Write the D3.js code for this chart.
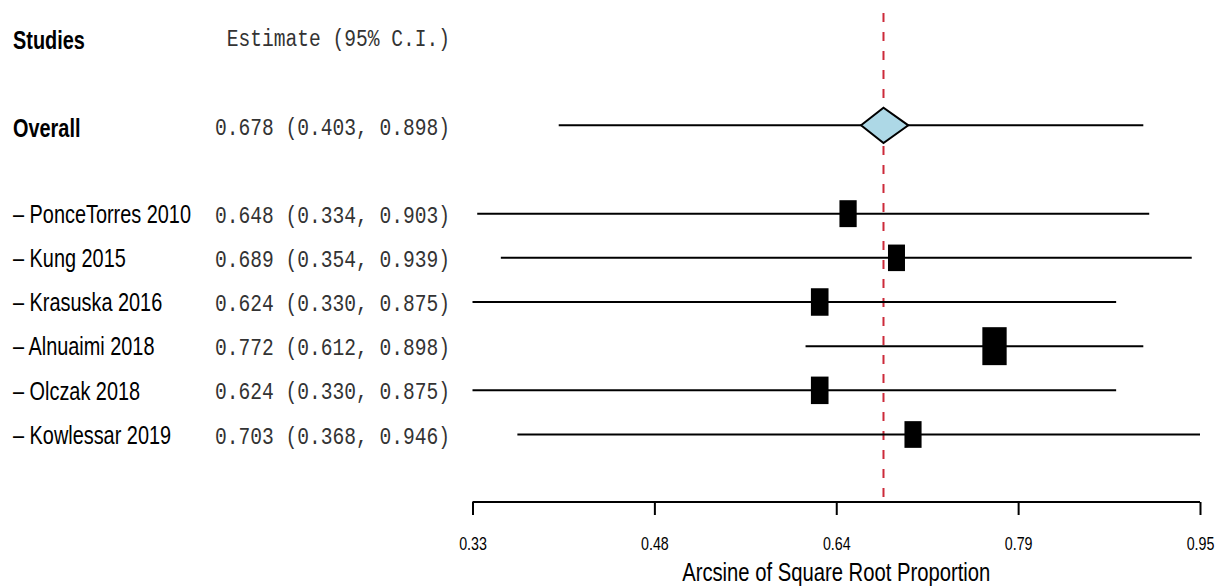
<!DOCTYPE html>
<html>
<head>
<meta charset="utf-8">
<script src="https://cdn.jsdelivr.net/npm/d3@7/dist/d3.min.js"></script>
<style>
  html, body { margin: 0; padding: 0; background: #fff; }
  svg { display: block; }
</style>
</head>
<body>
<svg id="chart" width="1216" height="588"></svg>
<script>
// ---- data ----
const studies   = ["PonceTorres 2010", "Kung 2015", "Krasuska 2016", "Alnuaimi 2018", "Olczak 2018", "Kowlessar 2019"];
const estimates = [0.648, 0.689, 0.624, 0.772, 0.624, 0.703];
const ciLower   = [0.334, 0.354, 0.330, 0.612, 0.330, 0.368];
const ciUpper   = [0.903, 0.939, 0.875, 0.898, 0.875, 0.946];
const overallLabel = "Overall";
const overallEstimate = 0.678;
const overallCI = [0.403, 0.898];
const overallDiamond = [0.659, 0.699];
const tickValues = [0.33, 0.484, 0.638, 0.792, 0.946];
const axisTitle = "Arcsine of Square Root Proportion";
const headerStudies = "Studies";
const headerEstimate = "Estimate (95% C.I.)";

// ---- layout ----
const svg = d3.select("#chart");
const sans = "'Liberation Sans', Arial, sans-serif";
const mono = "'Liberation Mono', 'DejaVu Sans Mono', monospace";

const x = d3.scaleLinear().domain([0.33, 0.946]).range([472.5, 1200]);
const row = d3.scaleLinear().domain([0, 9]).range([37, 434.5]);
const rowHeader = 0, rowOverall = 2, rowStudy0 = 4;
const axisY = 502;
const fmt = d3.format(".3f");
const ciText = (e, l, u) => `${fmt(e)} (${fmt(l)}, ${fmt(u)})`;

// condensed text helper
function cText(parent, tx, ty, size, sx, txt, opts = {}) {
  return parent.append("text")
    .attr("transform", `translate(${tx},${ty}) scale(${sx},1)`)
    .attr("text-anchor", opts.anchor || "start")
    .attr("font-family", opts.family || sans).attr("font-size", size)
    .attr("font-weight", opts.bold ? "bold" : "normal")
    .attr("fill", opts.fill || "#000")
    .text(txt);
}
const LABEL = [25.5, 0.78];
const MONO = [24.5, 0.8];

// square size from precision (inverse sqrt of CI width on plot scale)
const sizeW = d => 13.0 / Math.sqrt(d.hi - d.lo);
const sizeH = d => 20.3 / Math.sqrt(d.hi - d.lo);

const data = studies.map((s, i) => ({
  name: s, est: estimates[i], lo: ciLower[i], hi: ciUpper[i], r: rowStudy0 + i
}));

// reference dashed line at overall estimate
svg.append("line")
  .attr("x1", x(overallEstimate)).attr("x2", x(overallEstimate))
  .attr("y1", 13).attr("y2", axisY)
  .attr("stroke", "#cc2a3a").attr("stroke-width", 2)
  .attr("stroke-dasharray", "9,10");

// headers
cText(svg, 13, row(rowHeader) + 12, LABEL[0], LABEL[1], headerStudies, { bold: true });
cText(svg, 450, row(rowHeader) + 9, MONO[0], MONO[1], headerEstimate,
  { anchor: "end", family: mono, fill: "#333" });

// overall row
cText(svg, 13, row(rowOverall) + 11.5, LABEL[0], LABEL[1], overallLabel, { bold: true });
cText(svg, 450, row(rowOverall) + 10, MONO[0], MONO[1],
  ciText(overallEstimate, overallCI[0], overallCI[1]),
  { anchor: "end", family: mono, fill: "#333" });
svg.append("line")
  .attr("x1", x(overallCI[0])).attr("x2", x(overallCI[1]))
  .attr("y1", row(rowOverall)).attr("y2", row(rowOverall))
  .attr("stroke", "#000").attr("stroke-width", 2);
const yo = row(rowOverall), dh = 17.7;
svg.append("polygon")
  .attr("points", [
    [x(overallDiamond[0]), yo], [x(overallEstimate), yo - dh],
    [x(overallDiamond[1]), yo], [x(overallEstimate), yo + dh]
  ].map(p => p.join(",")).join(" "))
  .attr("fill", "#add8e6").attr("stroke", "#000").attr("stroke-width", 2)
  .attr("stroke-linejoin", "miter");

// study rows
const g = svg.append("g").selectAll("g").data(data).join("g");
g.each(function (d) {
  const s = d3.select(this);
  cText(s, 13, row(d.r) + 9.3, LABEL[0], LABEL[1], "\u2013 " + d.name);
  cText(s, 450, row(d.r) + 9, MONO[0], MONO[1], ciText(d.est, d.lo, d.hi),
    { anchor: "end", family: mono, fill: "#333" });
});
g.append("line")
  .attr("x1", d => x(d.lo)).attr("x2", d => x(d.hi))
  .attr("y1", d => row(d.r)).attr("y2", d => row(d.r))
  .attr("stroke", "#000").attr("stroke-width", 2);
g.append("rect")
  .attr("x", d => x(d.est) - sizeW(d) / 2)
  .attr("y", d => row(d.r) - sizeH(d) / 2)
  .attr("width", sizeW).attr("height", sizeH)
  .attr("fill", "#000");

// x axis
const axis = d3.axisBottom(x).tickValues(tickValues).tickSize(13).tickSizeOuter(0)
  .tickFormat(d3.format(".2f"));
const ax = svg.append("g").attr("transform", `translate(0,${axisY})`).call(axis);
ax.select(".domain").attr("stroke", "#000").attr("stroke-width", 2.2)
  .attr("d", `M${x.range()[0]},0H${x.range()[1]}`);
ax.selectAll(".tick line").attr("stroke", "#000").attr("stroke-width", 2);
ax.selectAll(".tick text")
  .attr("font-family", sans).attr("font-size", 19).attr("fill", "#000")
  .attr("y", 0).attr("dy", 0)
  .attr("transform", "translate(0,47.5) scale(0.75,1)");
cText(svg, (x.range()[0] + x.range()[1]) / 2, 581, 25, 0.81, axisTitle, { anchor: "middle" });
</script>
</body>
</html>
